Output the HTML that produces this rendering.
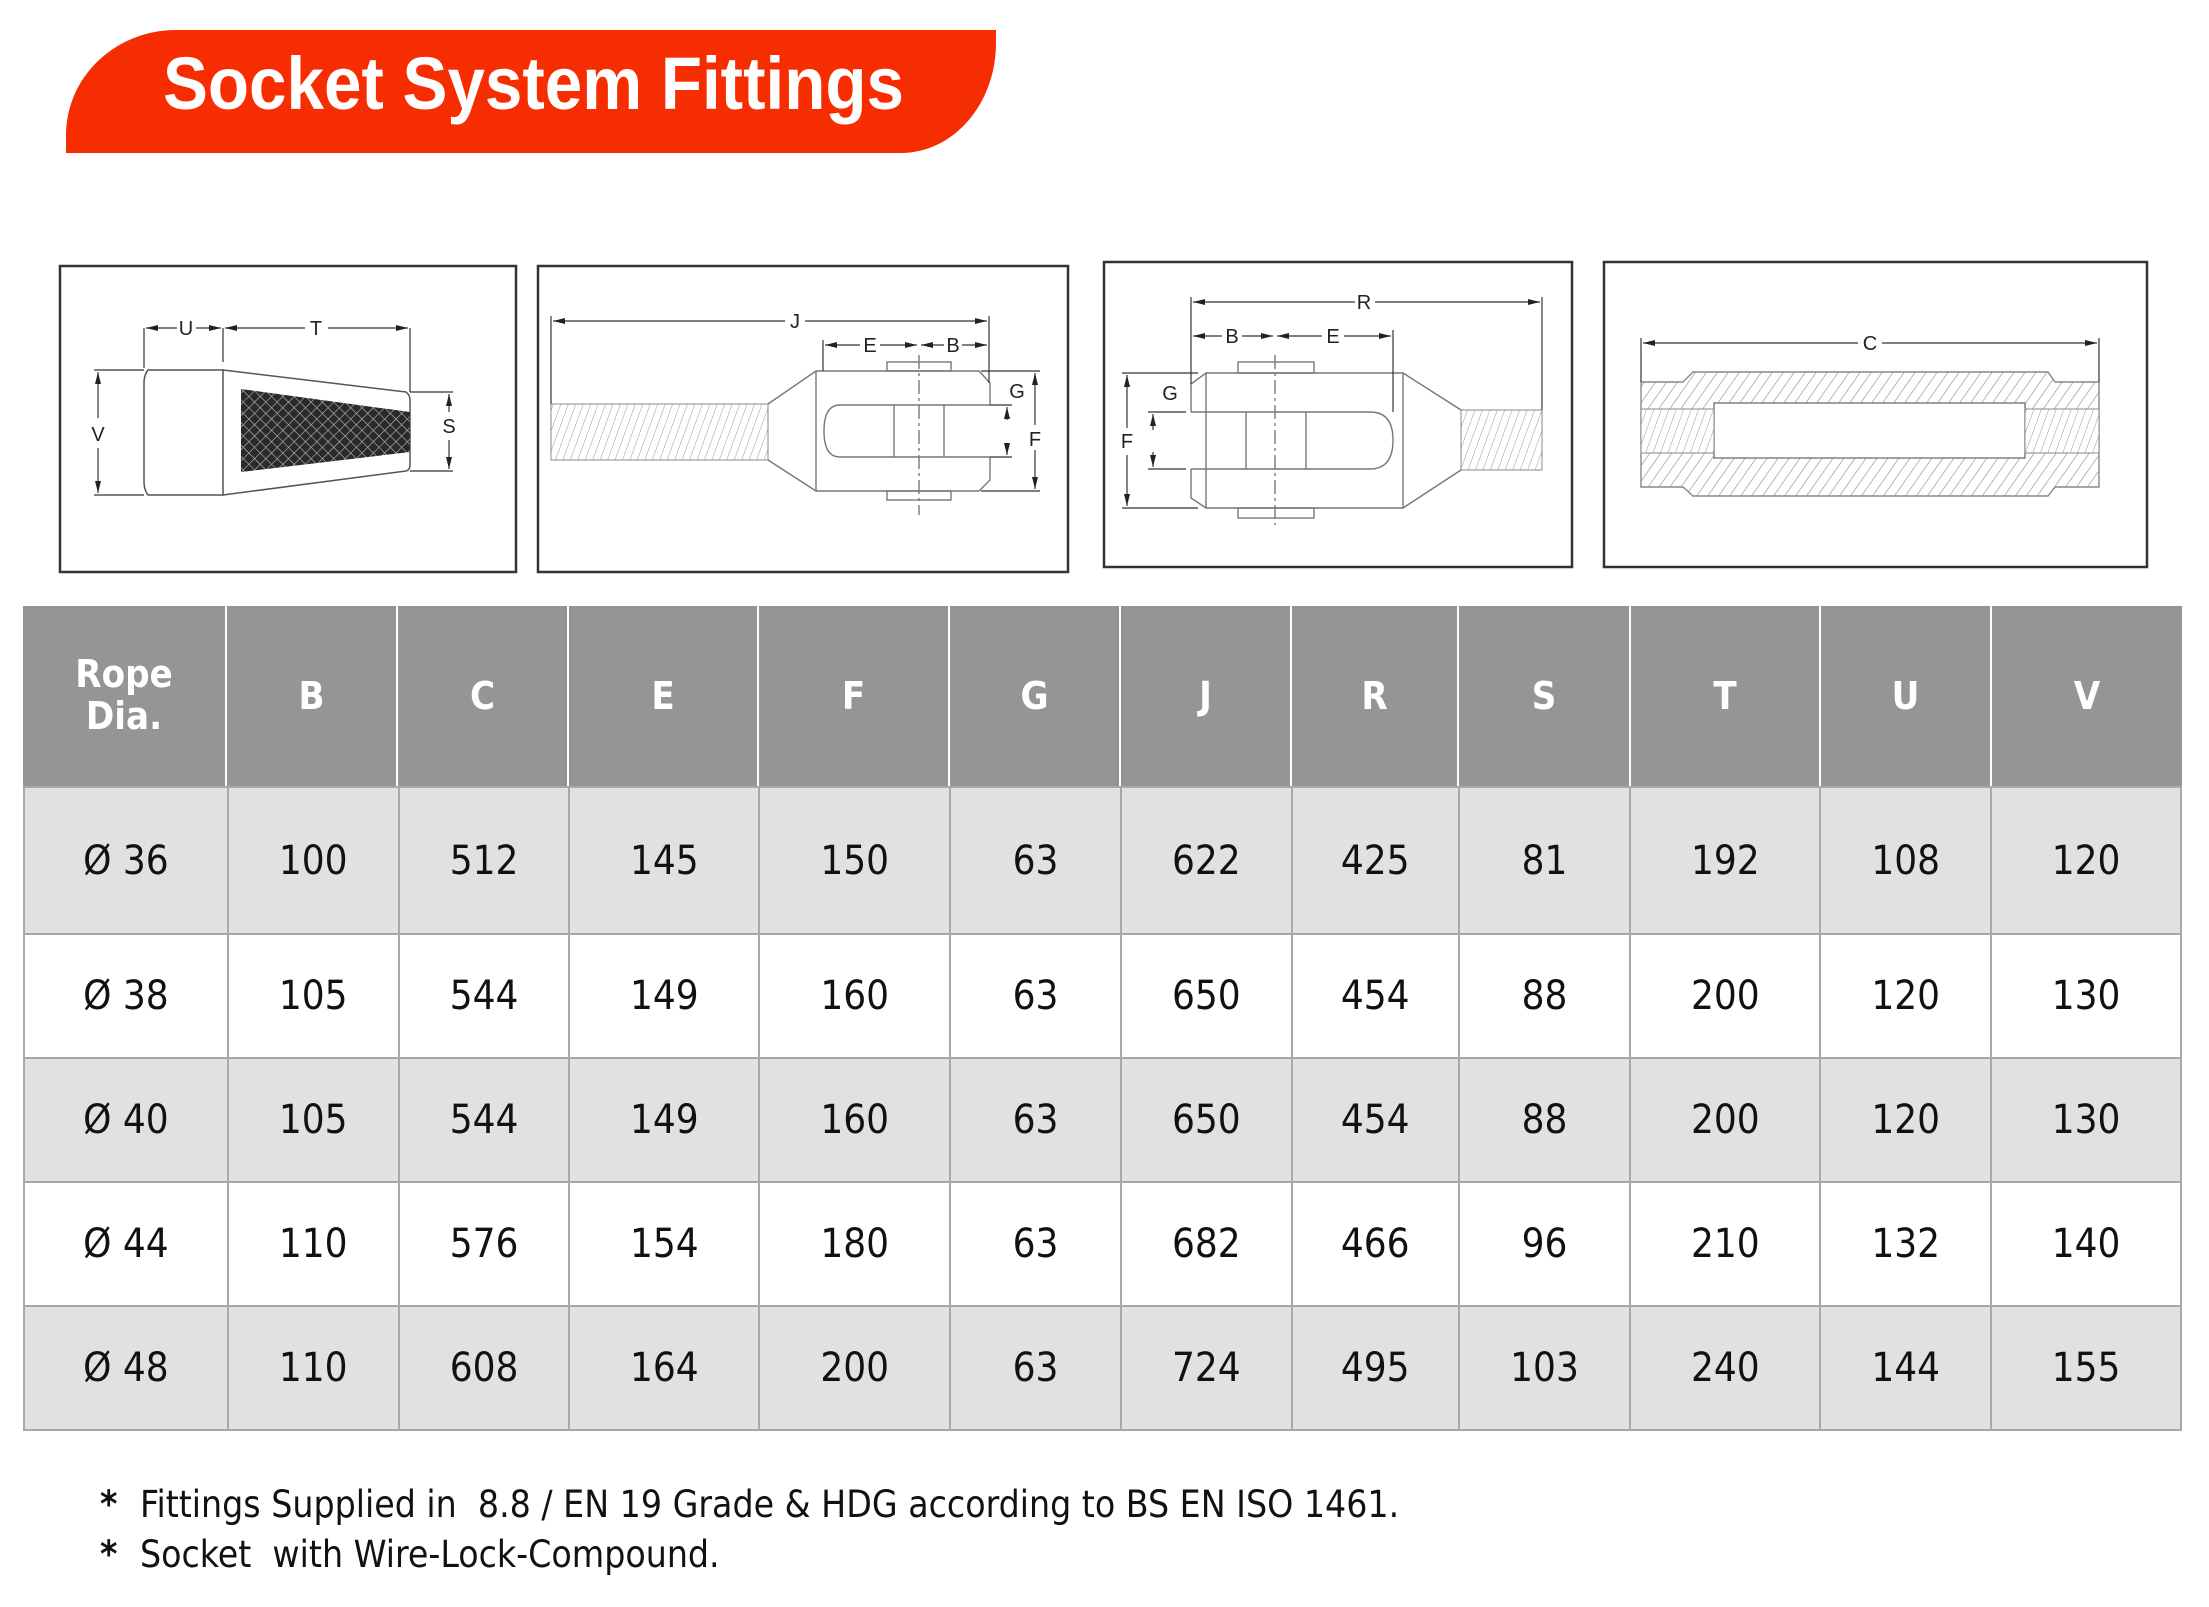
<!DOCTYPE html>
<html><head><meta charset="utf-8"><style>
html,body{margin:0;padding:0;background:#fff;}
body{width:2209px;height:1607px;position:relative;overflow:hidden;}
.banner{position:absolute;left:66px;top:30px;width:930px;height:123px;background:#f72d02;border-top-right-radius:0;border-bottom-right-radius:95px 110px;border-top-left-radius:110px 105px;border-bottom-left-radius:0;}
.title{position:absolute;left:163px;top:41px;font:bold 74px "Liberation Sans",sans-serif;color:#fff;white-space:nowrap;transform:scaleX(0.91);transform-origin:left top;}
.c{position:absolute;display:flex;align-items:center;justify-content:center;box-sizing:border-box;font-family:"DejaVu Sans Condensed","DejaVu Sans",sans-serif;}
.h{background:#959595;color:#fff;font-weight:bold;font-size:38px;border-right:2px solid #fff;}
.note{position:absolute;font:37px "DejaVu Sans Condensed","DejaVu Sans",sans-serif;color:#111;white-space:nowrap;}
td{border:2px solid #a8a8a8;padding:0;}
</style></head><body>
<div class="banner"></div>
<div class="title">Socket System Fittings</div>

<svg width="2209" height="1607" style="position:absolute;left:0;top:0" xmlns="http://www.w3.org/2000/svg">
<defs>
<pattern id="xh" width="8" height="8" patternUnits="userSpaceOnUse" patternTransform="rotate(45)">
<rect width="8" height="8" fill="#2a2a2a"/><line x1="0" y1="0" x2="0" y2="8" stroke="#bbb" stroke-width="1.2"/><line x1="0" y1="0" x2="8" y2="0" stroke="#bbb" stroke-width="1.2"/></pattern>
<pattern id="dh" width="9" height="9" patternUnits="userSpaceOnUse" patternTransform="rotate(35)">
<rect width="9" height="9" fill="#fff"/><line x1="0" y1="0" x2="0" y2="9" stroke="#888" stroke-width="1.2"/></pattern>
<pattern id="th" width="7" height="7" patternUnits="userSpaceOnUse" patternTransform="rotate(20)">
<rect width="7" height="7" fill="#fff"/><line x1="0" y1="0" x2="0" y2="7" stroke="#999" stroke-width="1"/></pattern>
<marker id="a" markerWidth="12" markerHeight="8" refX="12" refY="4" orient="auto-start-reverse" markerUnits="userSpaceOnUse"><path d="M0,1 L12,4 L0,7 Z" fill="#222"/></marker>
</defs>
<g fill="none" stroke="#333" stroke-width="2.5">
<rect x="60" y="266" width="456" height="306"/>
<rect x="538" y="266" width="530" height="306"/>
<rect x="1104" y="262" width="468" height="305"/>
<rect x="1604" y="262" width="543" height="305"/>
</g>
<g font-family="Liberation Sans,sans-serif" font-size="20" fill="#222" text-anchor="middle">
<g stroke="#555" stroke-width="1.5" fill="none">
<path d="M148,370 L223,370 L223,495 L148,495 Q144,490 144,482 L144,383 Q144,375 148,370 Z"/>
<path d="M223,370 L406,392 Q410,395 410,400 L410,465 Q410,470 406,471 L223,495"/>
</g>
<polygon points="241,389 410,412 410,452 241,472" fill="url(#xh)"/>
<g stroke="#333" stroke-width="1.2" fill="none">
<line x1="144" y1="328" x2="144" y2="368"/><line x1="223" y1="328" x2="223" y2="362"/><line x1="410" y1="328" x2="410" y2="392"/>
<line x1="146" y1="328" x2="177" y2="328" marker-start="url(#a)"/><line x1="196" y1="328" x2="221" y2="328" marker-end="url(#a)"/>
<line x1="225" y1="328" x2="305" y2="328" marker-start="url(#a)"/><line x1="328" y1="328" x2="408" y2="328" marker-end="url(#a)"/>
<line x1="94" y1="370" x2="144" y2="370"/><line x1="94" y1="495" x2="144" y2="495"/>
<line x1="98" y1="372" x2="98" y2="418" marker-start="url(#a)"/><line x1="98" y1="448" x2="98" y2="493" marker-end="url(#a)"/>
<line x1="410" y1="392" x2="453" y2="392"/><line x1="410" y1="471" x2="453" y2="471"/>
<line x1="449" y1="394" x2="449" y2="412" marker-start="url(#a)"/><line x1="449" y1="440" x2="449" y2="469" marker-end="url(#a)"/>
</g>
<text x="186" y="335">U</text><text x="316" y="335">T</text><text x="98" y="441">V</text><text x="449" y="433">S</text>

<rect x="551" y="404" width="217" height="56" fill="url(#th)" stroke="#888" stroke-width="1"/>
<g stroke="#777" stroke-width="1.4" fill="none">
<path d="M768,404 L816,371 L979,371 L990,383 L990,405 M990,457 L990,480 L979,491 L816,491 L768,460"/>
<line x1="816" y1="371" x2="816" y2="491"/>
<path d="M990,405 L840,405 Q824,405 824,431 Q824,457 840,457 L990,457"/>
<rect x="887" y="362" width="64" height="9"/><rect x="887" y="491" width="64" height="9"/>
<line x1="894" y1="405" x2="894" y2="457"/><line x1="944" y1="405" x2="944" y2="457"/>
<line x1="919" y1="355" x2="919" y2="515" stroke-dasharray="14,4,3,4"/>
</g>
<g stroke="#333" stroke-width="1.2" fill="none">
<line x1="551" y1="316" x2="551" y2="404"/><line x1="989" y1="316" x2="989" y2="383"/><line x1="823" y1="340" x2="823" y2="371"/>
<line x1="553" y1="321" x2="785" y2="321" marker-start="url(#a)"/><line x1="805" y1="321" x2="987" y2="321" marker-end="url(#a)"/>
<line x1="825" y1="345" x2="860" y2="345" marker-start="url(#a)"/><line x1="880" y1="345" x2="917" y2="345" marker-end="url(#a)"/>
<line x1="921" y1="345" x2="944" y2="345" marker-start="url(#a)"/><line x1="962" y1="345" x2="987" y2="345" marker-end="url(#a)"/>
<line x1="981" y1="371" x2="1040" y2="371"/><line x1="981" y1="491" x2="1040" y2="491"/>
<line x1="990" y1="405" x2="1012" y2="405"/><line x1="990" y1="457" x2="1012" y2="457"/>
<line x1="1007" y1="420" x2="1007" y2="407" marker-end="url(#a)"/><line x1="1007" y1="445" x2="1007" y2="455" marker-end="url(#a)"/>
<line x1="1035" y1="373" x2="1035" y2="425" marker-start="url(#a)"/><line x1="1035" y1="450" x2="1035" y2="489" marker-end="url(#a)"/>
</g>
<text x="795" y="328">J</text><text x="870" y="352">E</text><text x="953" y="352">B</text><text x="1017" y="398">G</text><text x="1035" y="446">F</text>

<rect x="1461" y="410" width="81" height="60" fill="url(#th)" stroke="#888" stroke-width="1"/>
<g stroke="#777" stroke-width="1.4" fill="none">
<path d="M1191,412 L1191,384 L1206,373 L1403,373 L1461,410 M1461,470 L1403,508 L1206,508 L1191,498 L1191,469"/>
<line x1="1206" y1="373" x2="1206" y2="508"/><line x1="1403" y1="373" x2="1403" y2="508"/>
<path d="M1191,412 L1370,412 Q1393,412 1393,440 Q1393,469 1370,469 L1191,469"/>
<rect x="1238" y="362" width="76" height="11"/><rect x="1238" y="508" width="76" height="10"/>
<line x1="1246" y1="412" x2="1246" y2="469"/><line x1="1306" y1="412" x2="1306" y2="469"/>
<line x1="1275" y1="355" x2="1275" y2="525" stroke-dasharray="14,4,3,4"/>
</g>
<g stroke="#333" stroke-width="1.2" fill="none">
<line x1="1191" y1="297" x2="1191" y2="384"/><line x1="1542" y1="297" x2="1542" y2="410"/><line x1="1393" y1="330" x2="1393" y2="412"/>
<line x1="1193" y1="302" x2="1355" y2="302" marker-start="url(#a)"/><line x1="1375" y1="302" x2="1540" y2="302" marker-end="url(#a)"/>
<line x1="1193" y1="336" x2="1222" y2="336" marker-start="url(#a)"/><line x1="1242" y1="336" x2="1273" y2="336" marker-end="url(#a)"/>
<line x1="1277" y1="336" x2="1322" y2="336" marker-start="url(#a)"/><line x1="1344" y1="336" x2="1391" y2="336" marker-end="url(#a)"/>
<line x1="1122" y1="373" x2="1198" y2="373"/><line x1="1122" y1="508" x2="1198" y2="508"/>
<line x1="1148" y1="412" x2="1186" y2="412"/><line x1="1148" y1="469" x2="1186" y2="469"/>
<line x1="1127" y1="375" x2="1127" y2="428" marker-start="url(#a)"/><line x1="1127" y1="455" x2="1127" y2="506" marker-end="url(#a)"/>
<line x1="1153" y1="414" x2="1153" y2="430" marker-start="url(#a)"/><line x1="1153" y1="452" x2="1153" y2="467" marker-end="url(#a)"/>
</g>
<text x="1364" y="309">R</text><text x="1232" y="343">B</text><text x="1333" y="343">E</text><text x="1127" y="448">F</text><text x="1170" y="400">G</text>

<path d="M1641,382 L1683,382 L1693,372 L2048,372 L2055,382 L2099,382 L2099,487 L2055,487 L2048,496 L1693,496 L1683,487 L1641,487 Z" fill="url(#dh)" stroke="#888" stroke-width="1.4"/>
<rect x="1714" y="403" width="311" height="55" fill="#fff" stroke="#777" stroke-width="1.4"/>
<rect x="1641" y="409" width="73" height="44" fill="url(#th)" stroke="#888" stroke-width="1"/>
<rect x="2025" y="409" width="74" height="44" fill="url(#th)" stroke="#888" stroke-width="1"/>
<g stroke="#333" stroke-width="1.2" fill="none">
<line x1="1641" y1="338" x2="1641" y2="382"/><line x1="2099" y1="338" x2="2099" y2="382"/>
<line x1="1643" y1="343" x2="1858" y2="343" marker-start="url(#a)"/><line x1="1882" y1="343" x2="2097" y2="343" marker-end="url(#a)"/>
</g>
<text x="1870" y="350">C</text>
</g>
</svg>

<div class="c h" style="left:23px;top:606px;width:204px;height:180px;line-height:1.1;text-align:center">Rope<br>Dia.</div>
<div class="c h" style="left:227px;top:606px;width:171px;height:180px">B</div>
<div class="c h" style="left:398px;top:606px;width:171px;height:180px">C</div>
<div class="c h" style="left:569px;top:606px;width:190px;height:180px">E</div>
<div class="c h" style="left:759px;top:606px;width:191px;height:180px">F</div>
<div class="c h" style="left:950px;top:606px;width:171px;height:180px">G</div>
<div class="c h" style="left:1121px;top:606px;width:171px;height:180px">J</div>
<div class="c h" style="left:1292px;top:606px;width:167px;height:180px">R</div>
<div class="c h" style="left:1459px;top:606px;width:172px;height:180px">S</div>
<div class="c h" style="left:1631px;top:606px;width:190px;height:180px">T</div>
<div class="c h" style="left:1821px;top:606px;width:171px;height:180px">U</div>
<div class="c h" style="left:1992px;top:606px;width:190px;height:180px;border-right:none">V</div>

<div style="position:absolute;left:23px;top:786px;width:2159px;">
<table style="border-collapse:collapse;table-layout:fixed;font-family:'DejaVu Sans Condensed','DejaVu Sans',sans-serif;font-size:40px;color:#111;text-align:center">
<colgroup><col style="width:204px"><col style="width:171px"><col style="width:171px"><col style="width:190px"><col style="width:191px"><col style="width:171px"><col style="width:171px"><col style="width:167px"><col style="width:172px"><col style="width:190px"><col style="width:171px"><col style="width:190px"></colgroup>
<tr style="height:147px;background:#e1e1e1"><td>Ø 36</td><td>100</td><td>512</td><td>145</td><td>150</td><td>63</td><td>622</td><td>425</td><td>81</td><td>192</td><td>108</td><td>120</td></tr>
<tr style="height:124px;background:#fff"><td>Ø 38</td><td>105</td><td>544</td><td>149</td><td>160</td><td>63</td><td>650</td><td>454</td><td>88</td><td>200</td><td>120</td><td>130</td></tr>
<tr style="height:124px;background:#e1e1e1"><td>Ø 40</td><td>105</td><td>544</td><td>149</td><td>160</td><td>63</td><td>650</td><td>454</td><td>88</td><td>200</td><td>120</td><td>130</td></tr>
<tr style="height:124px;background:#fff"><td>Ø 44</td><td>110</td><td>576</td><td>154</td><td>180</td><td>63</td><td>682</td><td>466</td><td>96</td><td>210</td><td>132</td><td>140</td></tr>
<tr style="height:124px;background:#e1e1e1"><td>Ø 48</td><td>110</td><td>608</td><td>164</td><td>200</td><td>63</td><td>724</td><td>495</td><td>103</td><td>240</td><td>144</td><td>155</td></tr>
</table></div>

<div class="note" style="left:100px;top:1483px;font-weight:bold">*</div>
<div class="note" style="left:140px;top:1483px">Fittings Supplied in&nbsp; 8.8 / EN 19 Grade &amp; HDG according to BS EN ISO 1461.</div>
<div class="note" style="left:100px;top:1533px;font-weight:bold">*</div>
<div class="note" style="left:140px;top:1533px">Socket&nbsp; with Wire-Lock-Compound.</div>
</body></html>
